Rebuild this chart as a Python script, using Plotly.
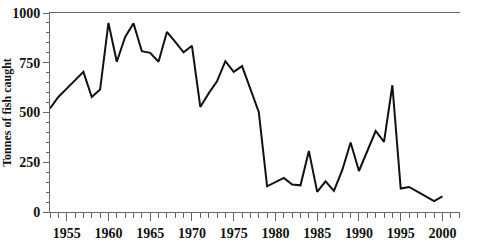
import plotly.graph_objects as go

years = list(range(1953, 2001))
tonnes = [520, 578, 620, 662, 704, 578, 615, 950, 755, 880,
          948, 808, 800, 755, 905, 855, 802, 835, 528, 596,
          657, 758, 704, 733, 620, 503, 129, 151, 171, 138,
          134, 307, 101, 154, 106, 210, 349, 206, 307, 407,
          352, 637, 118, 126, 102, 78, 55, 79]

x_ticks = [1955, 1960, 1965, 1970, 1975, 1980, 1985, 1990, 1995, 2000]
y_ticks = [0, 250, 500, 750, 1000]

font = dict(family="Liberation Serif", size=14, color="#111")

fig = go.Figure(go.Scatter(x=years, y=tonnes, mode="lines",
                           line=dict(color="#111", width=2)))

fig.update_layout(
    width=487, height=246,
    margin=dict(l=50, r=27, t=13, b=34),
    paper_bgcolor="white", plot_bgcolor="white",
    showlegend=False,
    font=font,
)
fig.update_xaxes(
    range=[1953, 2002.1], tickvals=x_ticks,
    ticktext=[f"<b>{v}</b>" for v in x_ticks],
    showgrid=False, zeroline=False, automargin=False,
    showline=True, linecolor="#666", linewidth=1, mirror=True,
    ticks="outside", ticklen=8, tickcolor="#666",
    minor=dict(dtick=1, tick0=1953, ticks="outside", ticklen=5, tickcolor="#666"),
    tickfont=font,
)
fig.update_yaxes(
    range=[0, 1000], tickvals=y_ticks,
    ticktext=[f"<b>{v}</b>" for v in y_ticks],
    showgrid=False, zeroline=False, automargin=False,
    showline=True, linecolor="#666", linewidth=1,
    ticks="outside", ticklen=6, tickcolor="#666",
    minor=dict(dtick=50, tick0=0, ticks="outside", ticklen=3, tickcolor="#666"),
    tickfont=font,
    title=dict(text="<b>Tonnes of fish caught</b>", font=dict(family="Liberation Serif", size=12, color="#111"), standoff=6),
)

fig.write_html("out.html")
